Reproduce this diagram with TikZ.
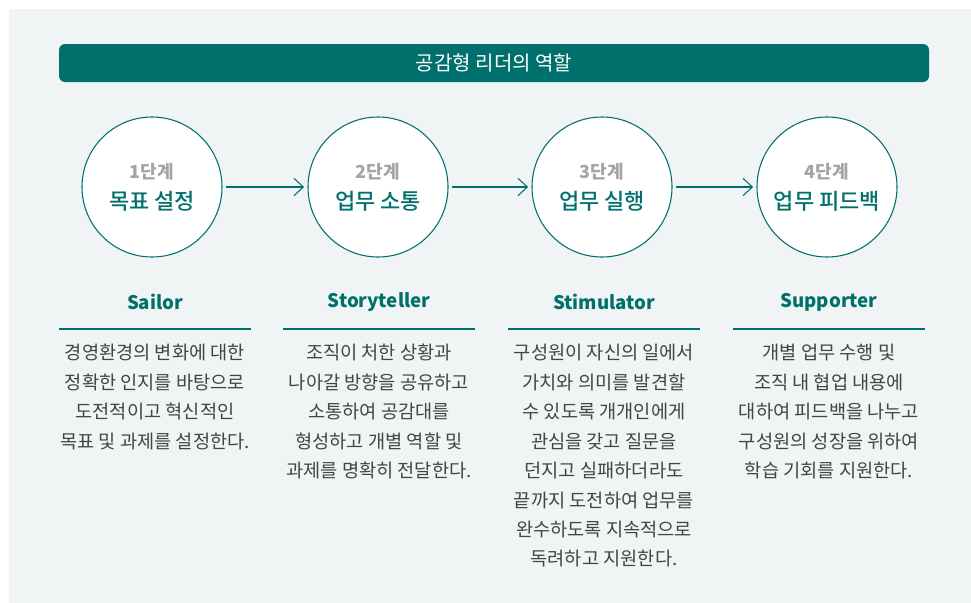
\documentclass[tikz,border=0pt]{standalone}
\usepackage{fontspec}
\setmainfont{Noto Sans CJK KR}
\newfontfamily\medio{Noto Sans CJK KR Medium}
\usepackage{xcolor}
\usepackage{tikz}
\usetikzlibrary{arrows.meta}
\definecolor{TealRol}{RGB}{0,112,108}
\definecolor{FondoGris}{RGB}{240,244,245}
\definecolor{GrisPaso}{RGB}{165,165,165}
\definecolor{TextoCuerpo}{RGB}{68,68,68}
\tikzset{
  etapa/.style={circle,draw=TealRol,line width=0.8pt,fill=white,minimum size=105pt,inner sep=0pt,align=center},
  flecha/.style={->,draw=TealRol,line width=0.8pt,shorten <=2.5pt,shorten >=2.5pt},
  rol/.style={text=TealRol,font=\fontsize{14}{16}\selectfont\bfseries},
  regla/.style={draw=TealRol,line width=0.8pt},
  cuerpo/.style={text=TextoCuerpo,align=center,anchor=north,inner sep=0pt,font=\fontsize{14}{22.1}\selectfont}
}
\newcommand{\pasotxt}[1]{{\color{GrisPaso}\fontsize{13.5}{15}\selectfont\bfseries #1}}
\newcommand{\nombretxt}[1]{{\color{TealRol}\fontsize{16.5}{18}\selectfont\medio #1}}

\begin{document}
\begin{tikzpicture}[x=0.75pt,y=-0.75pt,>={Straight Barb[length=7pt,width=13pt]}]
  \useasboundingbox (0,0) rectangle (971,603);
  \fill[FondoGris] (9,9) rectangle (971,603);

  % Barra de título
  \node[fill=TealRol,rounded corners=4.5pt,minimum width=652.5pt,minimum height=28.5pt,
        text=white,font=\fontsize{15}{17}\selectfont] (titulo) at (494,63) {공감형 리더의 역할};

  % Cuatro etapas
  \node[etapa] (c1) at (152,187) {\pasotxt{1단계}\\[7pt]\nombretxt{목표 설정}};
  \node[etapa] (c2) at (378,187) {\pasotxt{2단계}\\[7pt]\nombretxt{업무 소통}};
  \node[etapa] (c3) at (602,187) {\pasotxt{3단계}\\[7pt]\nombretxt{업무 실행}};
  \node[etapa] (c4) at (827,187) {\pasotxt{4단계}\\[7pt]\nombretxt{업무 피드백}};
  \foreach \a/\b in {c1/c2,c2/c3,c3/c4}
    \draw[flecha] (\a) -- (\b);

  % Roles y descripciones
  \foreach \x/\n/\r in {155/1/Sailor,379/2/Storyteller,604/3/Stimulator,829/4/Supporter}{
    \node[rol] (r\n) at (\x,302) {\r};
    \draw[regla] (\x-96,329) -- (\x+96,329);
  }
  \node[cuerpo] (t1) at (155,344) {경영환경의 변화에 대한\\정확한 인지를 바탕으로\\도전적이고 혁신적인\\목표 및 과제를 설정한다.};
  \node[cuerpo] (t2) at (379,344) {조직이 처한 상황과\\나아갈 방향을 공유하고\\소통하여 공감대를\\형성하고 개별 역할 및\\과제를 명확히 전달한다.};
  \node[cuerpo] (t3) at (604,344) {구성원이 자신의 일에서\\가치와 의미를 발견할\\수 있도록 개개인에게\\관심을 갖고 질문을\\던지고 실패하더라도\\끝까지 도전하여 업무를\\완수하도록 지속적으로\\독려하고 지원한다.};
  \node[cuerpo] (t4) at (829,344) {개별 업무 수행 및\\조직 내 협업 내용에\\대하여 피드백을 나누고\\구성원의 성장을 위하여\\학습 기회를 지원한다.};
\end{tikzpicture}
\end{document}
